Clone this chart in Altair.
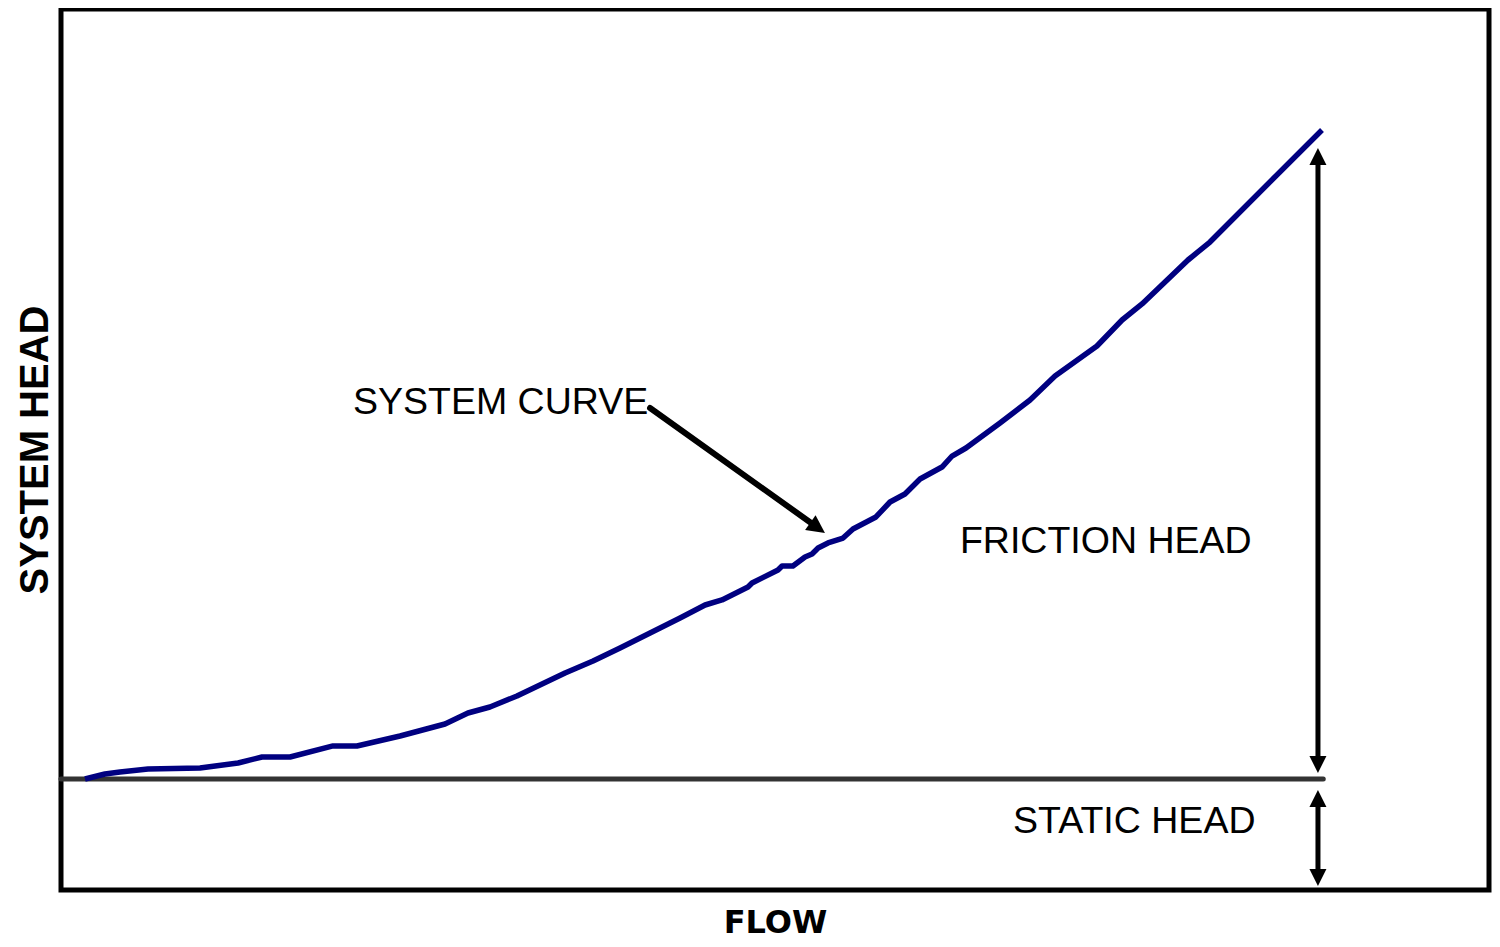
import altair as alt
import pandas as pd

# System curve (flow %, head %)
curve_flow = [1.67, 3.06, 4.11, 6.06, 9.68, 12.33, 14.0, 15.95, 18.94, 20.61, 23.61, 26.74,
              28.34, 29.87, 31.75, 35.10, 37.05, 38.93, 41.02, 43.11, 44.85, 46.03, 47.84,
              48.12, 49.93, 50.21, 50.97, 51.81, 52.30, 52.72, 53.41, 54.46, 55.15, 56.75,
              57.73, 58.77, 59.82, 61.35, 62.05, 63.02, 65.39, 67.48, 69.22, 72.14, 73.89,
              75.28, 78.48, 80.01, 87.81]
curve_head = [12.6, 13.17, 13.39, 13.73, 13.85, 14.42, 15.10, 15.10, 16.35, 16.35, 17.48, 18.84,
              20.09, 20.77, 22.02, 24.63, 25.99, 27.47, 29.17, 30.87, 32.35, 32.92, 34.39,
              34.85, 36.32, 36.78, 36.78, 37.80, 38.14, 38.82, 39.39, 39.95, 40.98, 42.34,
              44.04, 44.95, 46.65, 48.01, 49.26, 50.17, 53.01, 55.62, 58.34, 61.75, 64.70,
              66.52, 71.51, 73.55, 86.27]

static_flow = [0.0, 87.9]
static_level = 12.6

arrow_flow = 87.53
friction_range = [13.28, 84.22]   # bottom tip, top tip
static_range = [0.45, 11.35]      # bottom tip, top tip
shaft_inset = 0.9

pointer_start = [41.02, 54.71]
pointer_shaft_end = [52.65, 41.18]
pointer_tip = [53.20, 40.52]

label_text = ["SYSTEM CURVE", "FRICTION HEAD", "STATIC HEAD"]
label_flow = [20.33, 62.6, 66.3]
label_head = [55.28, 39.5, 7.72]

x_domain = [0, 99.44]
y_domain = [0, 100]

xs = alt.Scale(domain=x_domain, nice=False, zero=False)
ys = alt.Scale(domain=y_domain, nice=False, zero=False)
x_axis = alt.Axis(title="FLOW", labels=False, ticks=False, domain=False, grid=False,
                  titleFont="DejaVu Sans", titleFontWeight="bold", titleFontSize=32,
                  titleColor="black", titlePadding=17)
y_axis = alt.Axis(title="SYSTEM HEAD", labels=False, ticks=False, domain=False, grid=False,
                  titleFont="Liberation Sans", titleFontWeight="bold", titleFontSize=40,
                  titleColor="black", titlePadding=6)


def X(field="flow"):
    return alt.X(f"{field}:Q", scale=xs, axis=x_axis)


def Y(field="head"):
    return alt.Y(f"{field}:Q", scale=ys, axis=y_axis)


curve_df = pd.DataFrame({"flow": curve_flow, "head": curve_head,
                         "i": list(range(len(curve_flow)))})
static_df = pd.DataFrame({"flow": static_flow, "head": [static_level] * len(static_flow)})

shaft_df = pd.DataFrame({
    "flow": [arrow_flow, arrow_flow],
    "head": [friction_range[0] + shaft_inset, static_range[0] + shaft_inset],
    "head2": [friction_range[1] - shaft_inset, static_range[1] - shaft_inset],
})
up_df = pd.DataFrame({"flow": [arrow_flow, arrow_flow],
                      "head": [friction_range[1], static_range[1]]})
down_df = pd.DataFrame({"flow": [arrow_flow, arrow_flow],
                        "head": [friction_range[0], static_range[0]]})
pointer_df = pd.DataFrame({"flow": [pointer_start[0]], "head": [pointer_start[1]],
                           "flow2": [pointer_shaft_end[0]], "head2": [pointer_shaft_end[1]]})
pointer_tip_df = pd.DataFrame({"flow": [pointer_tip[0]], "head": [pointer_tip[1]]})
label_df = pd.DataFrame({"flow": label_flow, "head": label_head, "label": label_text})

UP = "M0,0L-1,2L1,2Z"
DOWN = "M0,0L-1,-2L1,-2Z"

static_line = alt.Chart(static_df).mark_line(
    color="#333333", strokeWidth=5, strokeCap="round"
).encode(x=X(), y=Y())

curve = alt.Chart(curve_df).mark_line(
    color="#000080", strokeWidth=5.5, strokeJoin="round"
).encode(x=X(), y=Y(), order="i:Q")

shafts = alt.Chart(shaft_df).mark_rule(color="black", strokeWidth=5).encode(
    x=X(), y=Y(), y2="head2:Q")

heads_up = alt.Chart(up_df).mark_point(
    shape=UP, filled=True, color="black", opacity=1, size=289, strokeWidth=0
).encode(x=X(), y=Y())

heads_down = alt.Chart(down_df).mark_point(
    shape=DOWN, filled=True, color="black", opacity=1, size=289, strokeWidth=0
).encode(x=X(), y=Y())

pointer = alt.Chart(pointer_df).mark_rule(
    color="black", strokeWidth=6, strokeCap="round"
).encode(x=X(), y=Y(), x2="flow2:Q", y2="head2:Q")

pointer_head = alt.Chart(pointer_tip_df).mark_point(
    shape=UP, filled=True, color="black", opacity=1, size=324, strokeWidth=0, angle=125.5
).encode(x=X(), y=Y())

labels = alt.Chart(label_df).mark_text(
    font="Liberation Sans", fontSize=37.5, color="black", align="left", baseline="middle"
).encode(x=X(), y=Y(), text="label:N")

chart = alt.layer(
    static_line, curve, shafts, heads_up, heads_down, pointer, pointer_head, labels
).properties(
    width=1428,
    height=881,
    autosize=alt.AutoSizeParams(type="none"),
    padding={"left": 53, "top": 1, "right": 3, "bottom": 49},
    background="white",
).configure_view(
    stroke="black", strokeWidth=5
)

chart.save("out.html", embed_options={"renderer": "svg", "actions": False})
